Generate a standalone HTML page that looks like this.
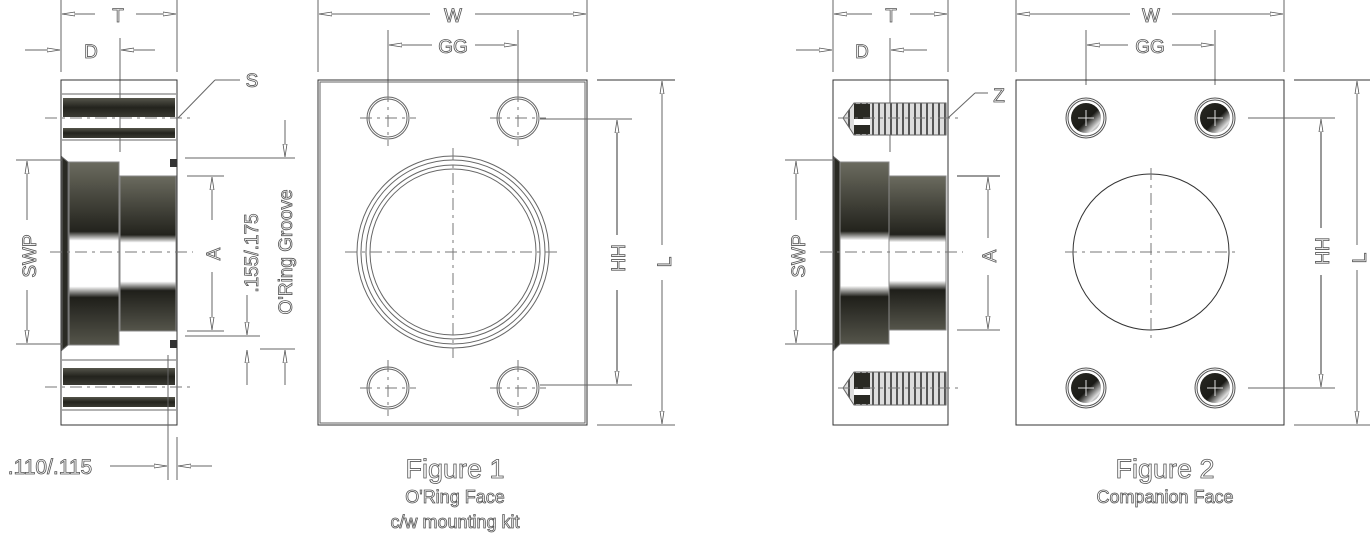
<!DOCTYPE html>
<html><head><meta charset="utf-8"><style>
html,body{margin:0;padding:0;background:#fff;}
svg{display:block;}
.t{font-family:"Liberation Sans",sans-serif;fill:#fff;stroke:#555;stroke-width:0.8;}
.ln{stroke:#666;stroke-width:1;fill:none;}
.dk{stroke:#333;stroke-width:1;fill:none;}
.cl{stroke:#777;stroke-width:1;fill:none;stroke-dasharray:12 5 3 5;}
</style></head><body>
<svg width="1370" height="536" viewBox="0 0 1370 536" xmlns="http://www.w3.org/2000/svg">
<defs>
<linearGradient id="cyl" x1="0" y1="0" x2="0" y2="1">
<stop offset="0" stop-color="#6b6b5f"/><stop offset="0.38" stop-color="#23231d"/>
<stop offset="0.43" stop-color="#fff"/><stop offset="0.68" stop-color="#fff"/>
<stop offset="0.74" stop-color="#1f1f1a"/><stop offset="1" stop-color="#55554b"/>
</linearGradient>
<linearGradient id="band" x1="0" y1="0" x2="0" y2="1">
<stop offset="0" stop-color="#55554b"/><stop offset="0.5" stop-color="#23231d"/><stop offset="1" stop-color="#3a3a33"/>
</linearGradient>
<linearGradient id="hole" x1="0" y1="0" x2="1" y2="1">
<stop offset="0" stop-color="#2a2a24"/><stop offset="0.55" stop-color="#1a1a16"/><stop offset="0.8" stop-color="#ddd"/><stop offset="1" stop-color="#444"/>
</linearGradient>
<pattern id="thr" width="6" height="10" patternUnits="userSpaceOnUse">
<rect width="6" height="10" fill="#ddd"/><rect x="2" width="2" height="10" fill="#555"/>
</pattern>
<marker id="ar" markerWidth="14" markerHeight="6" refX="13" refY="3" orient="auto" markerUnits="userSpaceOnUse">
<path d="M0,1 L13,3 L0,5 Z" fill="#fff" stroke="#555" stroke-width="0.8"/>
</marker>
</defs>

<!-- ========== FIGURE 1 SIDE ========== -->
<line class="ln" x1="61" y1="0" x2="61" y2="72"/><line class="ln" x1="177" y1="0" x2="177" y2="72"/>
<line class="ln" x1="95" y1="14" x2="62" y2="14" marker-end="url(#ar)"/><line class="ln" x1="136" y1="14" x2="176" y2="14" marker-end="url(#ar)"/>
<text class="t" x="118" y="22" font-size="19" text-anchor="middle">T</text>
<line class="ln" x1="25" y1="50" x2="60" y2="50" marker-end="url(#ar)"/><line class="ln" x1="155" y1="50" x2="121" y2="50" marker-end="url(#ar)"/>
<text class="t" x="91" y="58" font-size="19" text-anchor="middle">D</text>
<line class="ln" x1="120" y1="38" x2="120" y2="152"/>
<rect x="61" y="80" width="116" height="345" class="dk"/>
<rect x="63" y="98" width="112" height="19" fill="url(#band)"/><rect x="63" y="128" width="112" height="10" fill="url(#band)"/>
<rect x="63" y="368" width="112" height="17" fill="url(#band)"/><rect x="63" y="397" width="112" height="10" fill="url(#band)"/>
<line class="ln" x1="62" y1="94" x2="176" y2="94"/><line class="ln" x1="62" y1="140" x2="176" y2="140"/>
<line class="ln" x1="62" y1="360" x2="176" y2="360"/><line class="ln" x1="62" y1="410" x2="176" y2="410"/>
<line class="cl" x1="45" y1="118" x2="192" y2="118"/><line class="cl" x1="45" y1="387" x2="192" y2="387"/>
<polygon points="62,157 68,162 68,345 62,350" fill="#2a2a24" stroke="#666"/>
<rect x="69" y="162" width="50" height="183" fill="url(#cyl)" stroke="#888"/>
<rect x="120" y="176" width="56" height="155" fill="url(#cyl)" stroke="#888"/>
<rect x="170" y="159" width="7" height="8" fill="#333"/><rect x="170" y="340" width="7" height="8" fill="#333"/>
<line class="cl" x1="50" y1="252" x2="193" y2="252"/>
<line class="ln" x1="16" y1="160" x2="62" y2="160"/><line class="ln" x1="16" y1="344" x2="62" y2="344"/>
<line class="ln" x1="27" y1="220" x2="27" y2="161" marker-end="url(#ar)"/><line class="ln" x1="27" y1="290" x2="27" y2="343" marker-end="url(#ar)"/>
<text class="t" transform="translate(36,256) rotate(-90)" font-size="19" text-anchor="middle">SWP</text>
<line class="ln" x1="187" y1="176" x2="224" y2="176"/><line class="ln" x1="187" y1="331" x2="224" y2="331"/>
<line class="ln" x1="212" y1="220" x2="212" y2="177" marker-end="url(#ar)"/><line class="ln" x1="212" y1="272" x2="212" y2="330" marker-end="url(#ar)"/>
<text class="t" transform="translate(220,254) rotate(-90)" font-size="19" text-anchor="middle">A</text>
<text class="t" transform="translate(258,253) rotate(-90)" font-size="19" text-anchor="middle">.155/.175</text>
<text class="t" transform="translate(292,252) rotate(-90)" font-size="19" text-anchor="middle">O'Ring Groove</text>
<line class="ln" x1="185" y1="158" x2="295" y2="158"/><line class="ln" x1="285" y1="120" x2="285" y2="157" marker-end="url(#ar)"/>
<line class="ln" x1="185" y1="336" x2="260" y2="336"/><line class="ln" x1="247" y1="295" x2="247" y2="335" marker-end="url(#ar)"/>
<line class="ln" x1="247" y1="385" x2="247" y2="350" marker-end="url(#ar)"/><line class="ln" x1="260" y1="349" x2="295" y2="349"/>
<line class="ln" x1="285" y1="385" x2="285" y2="350" marker-end="url(#ar)"/>
<line class="ln" x1="178" y1="118" x2="215" y2="80"/><line class="ln" x1="215" y1="80" x2="240" y2="80"/>
<text class="t" x="252" y="87" font-size="19" text-anchor="middle">S</text>
<line class="ln" x1="168" y1="355" x2="168" y2="480"/><line class="ln" x1="177" y1="437" x2="177" y2="480"/>
<line class="ln" x1="110" y1="466" x2="167" y2="466" marker-end="url(#ar)"/><line class="ln" x1="212" y1="466" x2="178" y2="466" marker-end="url(#ar)"/>
<text class="t" x="50" y="474" font-size="21" text-anchor="middle">.110/.115</text>

<!-- ========== FIGURE 1 FRONT ========== -->
<line class="ln" x1="318" y1="0" x2="318" y2="72"/><line class="ln" x1="587" y1="0" x2="587" y2="72"/>
<line class="ln" x1="430" y1="14" x2="319" y2="14" marker-end="url(#ar)"/><line class="ln" x1="475" y1="14" x2="586" y2="14" marker-end="url(#ar)"/>
<text class="t" x="453" y="22" font-size="19" text-anchor="middle">W</text>
<line class="ln" x1="388" y1="30" x2="388" y2="100"/><line class="ln" x1="518" y1="30" x2="518" y2="100"/>
<line class="ln" x1="432" y1="45" x2="389" y2="45" marker-end="url(#ar)"/><line class="ln" x1="475" y1="45" x2="517" y2="45" marker-end="url(#ar)"/>
<text class="t" x="453" y="53" font-size="19" text-anchor="middle">GG</text>
<rect x="318" y="80" width="269" height="345" class="dk"/><rect x="320" y="82" width="265" height="341" class="ln"/>
<g class="ln">
<circle cx="388" cy="118" r="21"/><circle cx="388" cy="118" r="19"/>
<circle cx="518" cy="118" r="21"/><circle cx="518" cy="118" r="19"/>
<circle cx="388" cy="388" r="21"/><circle cx="388" cy="388" r="19"/>
<circle cx="518" cy="388" r="21"/><circle cx="518" cy="388" r="19"/>
<circle cx="453" cy="252" r="96"/><circle cx="453" cy="252" r="92"/><circle cx="453" cy="252" r="87"/><circle cx="453" cy="252" r="83"/>
</g>
<g class="cl">
<line x1="360" y1="118" x2="416" y2="118"/><line x1="388" y1="90" x2="388" y2="146"/>
<line x1="490" y1="118" x2="546" y2="118"/><line x1="518" y1="90" x2="518" y2="146"/>
<line x1="360" y1="388" x2="416" y2="388"/><line x1="388" y1="360" x2="388" y2="416"/>
<line x1="490" y1="388" x2="546" y2="388"/><line x1="518" y1="360" x2="518" y2="416"/>
<line x1="345" y1="252" x2="560" y2="252"/><line x1="453" y1="148" x2="453" y2="358"/>
</g>
<line class="ln" x1="540" y1="119" x2="632" y2="119"/><line class="ln" x1="540" y1="385" x2="632" y2="385"/>
<line class="dk" x1="617" y1="235" x2="617" y2="120" marker-end="url(#ar)"/><line class="dk" x1="617" y1="290" x2="617" y2="384" marker-end="url(#ar)"/>
<text class="t" transform="translate(625,258) rotate(-90)" font-size="19" text-anchor="middle">HH</text>
<line class="dk" x1="597" y1="80" x2="675" y2="80"/><line class="ln" x1="597" y1="425" x2="675" y2="425"/>
<line class="ln" x1="662" y1="245" x2="662" y2="81" marker-end="url(#ar)"/><line class="ln" x1="662" y1="280" x2="662" y2="424" marker-end="url(#ar)"/>
<text class="t" transform="translate(671,262) rotate(-90)" font-size="19" text-anchor="middle">L</text>
<text class="t" x="455" y="478" font-size="27" text-anchor="middle">Figure 1</text>
<text class="t" x="455" y="503" font-size="18" text-anchor="middle">O'Ring Face</text>
<text class="t" x="455" y="528" font-size="18" text-anchor="middle">c/w mounting kit</text>

<!-- ========== FIGURE 2 SIDE ========== -->
<line class="ln" x1="833" y1="0" x2="833" y2="72"/><line class="ln" x1="948" y1="0" x2="948" y2="72"/>
<line class="ln" x1="872" y1="14" x2="834" y2="14" marker-end="url(#ar)"/><line class="ln" x1="910" y1="14" x2="947" y2="14" marker-end="url(#ar)"/>
<text class="t" x="891" y="22" font-size="19" text-anchor="middle">T</text>
<line class="ln" x1="796" y1="50" x2="832" y2="50" marker-end="url(#ar)"/><line class="ln" x1="927" y1="50" x2="891" y2="50" marker-end="url(#ar)"/>
<text class="t" x="862" y="58" font-size="19" text-anchor="middle">D</text>
<line class="ln" x1="890" y1="38" x2="890" y2="152"/>
<rect x="833" y="80" width="115" height="345" class="dk"/>
<polygon points="843,118 854,103 946,103 946,135 854,135" fill="url(#thr)" stroke="#666"/>
<rect x="854" y="104" width="16" height="30" fill="#2a2a24"/><rect x="854" y="119" width="16" height="6" fill="#fff"/>
<polygon points="843,388 854,372 946,372 946,405 854,405" fill="url(#thr)" stroke="#666"/>
<rect x="854" y="373" width="16" height="31" fill="#2a2a24"/><rect x="854" y="389" width="16" height="6" fill="#fff"/>
<line class="cl" x1="838" y1="118" x2="962" y2="118"/><line class="cl" x1="838" y1="388" x2="962" y2="388"/>
<line class="ln" x1="948" y1="118" x2="975" y2="93"/><line class="ln" x1="975" y1="93" x2="988" y2="93"/>
<text class="t" x="999" y="102" font-size="19" text-anchor="middle">Z</text>
<polygon points="834,157 840,162 840,344 834,350" fill="#2a2a24" stroke="#666"/>
<rect x="840" y="162" width="49" height="182" fill="url(#cyl)" stroke="#888"/>
<rect x="889" y="176" width="57" height="154" fill="url(#cyl)" stroke="#888"/>
<line class="cl" x1="820" y1="252" x2="963" y2="252"/>
<line class="ln" x1="785" y1="160" x2="834" y2="160"/><line class="ln" x1="785" y1="344" x2="834" y2="344"/>
<line class="ln" x1="796" y1="220" x2="796" y2="161" marker-end="url(#ar)"/><line class="ln" x1="796" y1="290" x2="796" y2="343" marker-end="url(#ar)"/>
<text class="t" transform="translate(805,256) rotate(-90)" font-size="19" text-anchor="middle">SWP</text>
<line class="dk" x1="957" y1="176" x2="1000" y2="176"/><line class="ln" x1="957" y1="330" x2="1000" y2="330"/>
<line class="ln" x1="988" y1="238" x2="988" y2="177" marker-end="url(#ar)"/><line class="ln" x1="988" y1="275" x2="988" y2="329" marker-end="url(#ar)"/>
<text class="t" transform="translate(996,256) rotate(-90)" font-size="19" text-anchor="middle">A</text>

<!-- ========== FIGURE 2 FRONT ========== -->
<line class="ln" x1="1016" y1="0" x2="1016" y2="72"/><line class="ln" x1="1284" y1="0" x2="1284" y2="72"/>
<line class="ln" x1="1130" y1="14" x2="1017" y2="14" marker-end="url(#ar)"/><line class="ln" x1="1172" y1="14" x2="1283" y2="14" marker-end="url(#ar)"/>
<text class="t" x="1151" y="22" font-size="19" text-anchor="middle">W</text>
<line class="ln" x1="1086" y1="30" x2="1086" y2="85"/><line class="ln" x1="1215" y1="30" x2="1215" y2="85"/>
<line class="ln" x1="1128" y1="45" x2="1087" y2="45" marker-end="url(#ar)"/><line class="ln" x1="1172" y1="45" x2="1214" y2="45" marker-end="url(#ar)"/>
<text class="t" x="1150" y="53" font-size="19" text-anchor="middle">GG</text>
<rect x="1016" y="80" width="268" height="345" class="dk"/>
<g stroke="#555" fill="none">
<circle cx="1086" cy="118" r="20"/><circle cx="1086" cy="118" r="18"/>
<circle cx="1215" cy="118" r="20"/><circle cx="1215" cy="118" r="18"/>
<circle cx="1086" cy="388" r="20"/><circle cx="1086" cy="388" r="18"/>
<circle cx="1215" cy="388" r="20"/><circle cx="1215" cy="388" r="18"/>
</g>
<circle cx="1086" cy="118" r="15" fill="url(#hole)"/><circle cx="1215" cy="118" r="15" fill="url(#hole)"/>
<circle cx="1086" cy="388" r="15" fill="url(#hole)"/><circle cx="1215" cy="388" r="15" fill="url(#hole)"/>
<g stroke="#ddd" stroke-width="1">
<line x1="1078" y1="118" x2="1094" y2="118"/><line x1="1086" y1="110" x2="1086" y2="126"/>
<line x1="1207" y1="118" x2="1223" y2="118"/><line x1="1215" y1="110" x2="1215" y2="126"/>
<line x1="1078" y1="388" x2="1094" y2="388"/><line x1="1086" y1="380" x2="1086" y2="396"/>
<line x1="1207" y1="388" x2="1223" y2="388"/><line x1="1215" y1="380" x2="1215" y2="396"/>
</g>
<circle cx="1151" cy="252" r="78" class="dk"/>
<g class="cl">
<line x1="1065" y1="252" x2="1236" y2="252"/><line x1="1151" y1="168" x2="1151" y2="338"/>
</g>
<line class="ln" x1="1248" y1="118" x2="1335" y2="118"/><line class="ln" x1="1248" y1="388" x2="1335" y2="388"/>
<line class="dk" x1="1321" y1="228" x2="1321" y2="119" marker-end="url(#ar)"/><line class="dk" x1="1321" y1="275" x2="1321" y2="387" marker-end="url(#ar)"/>
<text class="t" transform="translate(1329,251) rotate(-90)" font-size="19" text-anchor="middle">HH</text>
<line class="dk" x1="1294" y1="80" x2="1370" y2="80"/><line class="ln" x1="1294" y1="425" x2="1370" y2="425"/>
<line class="ln" x1="1357" y1="245" x2="1357" y2="81" marker-end="url(#ar)"/><line class="ln" x1="1357" y1="270" x2="1357" y2="424" marker-end="url(#ar)"/>
<text class="t" transform="translate(1366,258) rotate(-90)" font-size="19" text-anchor="middle">L</text>
<text class="t" x="1165" y="478" font-size="27" text-anchor="middle">Figure 2</text>
<text class="t" x="1165" y="503" font-size="18" text-anchor="middle">Companion Face</text>
</svg>
</body></html>
